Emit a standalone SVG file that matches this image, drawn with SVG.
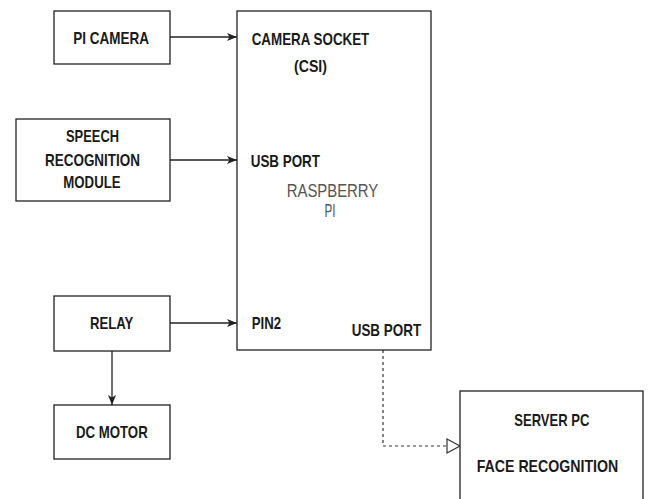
<svg xmlns="http://www.w3.org/2000/svg" width="649" height="499" viewBox="0 0 649 499">
<style>
.box{fill:#fff;stroke:#222;stroke-width:1.3}
.lbl{font-family:"Liberation Sans",Arial,sans-serif;font-weight:bold;font-size:17px;fill:#1a1a1a}
.big{font-family:"Liberation Sans",Arial,sans-serif;font-size:19px;fill:#555}
.conn{fill:none;stroke:#222;stroke-width:1.3}
.dash{fill:none;stroke:#333;stroke-width:1.2;stroke-dasharray:3 3}
</style>
<defs>
<marker id="arr" viewBox="0 0 10 8" refX="10" refY="4" markerWidth="10" markerHeight="8" markerUnits="userSpaceOnUse" orient="auto">
<path d="M0,0 L10,4 L0,8 L2.5,4 z" fill="#222"/>
</marker>
</defs>
<rect width="649" height="499" fill="#fff"/>
<g id="connectors">
<line class="conn" x1="170" y1="37" x2="237" y2="37" marker-end="url(#arr)"/>
<line class="conn" x1="170" y1="160" x2="237" y2="160" marker-end="url(#arr)"/>
<line class="conn" x1="170" y1="323" x2="237" y2="323" marker-end="url(#arr)"/>
<line class="conn" x1="112" y1="351" x2="112" y2="405" marker-end="url(#arr)"/>
<polyline class="dash" points="383,350 383,446 447,446"/>
<path d="M447,439 L460,446 L447,453 z" fill="#fff" stroke="#333" stroke-width="1.2"/>
</g>
<g id="raspberry">
<rect class="box" x="237" y="11" width="194" height="339"/>
<text class="lbl" x="251.7" y="45" textLength="117.6" lengthAdjust="spacingAndGlyphs">CAMERA SOCKET</text>
<text class="lbl" x="294" y="71.5" textLength="33" lengthAdjust="spacingAndGlyphs">(CSI)</text>
<text class="lbl" x="250.7" y="166.5" textLength="69.3" lengthAdjust="spacingAndGlyphs">USB PORT</text>
<text class="big" x="286.7" y="196.5" textLength="91.6" lengthAdjust="spacingAndGlyphs">RASPBERRY</text>
<text class="big" x="324.5" y="217" textLength="11" lengthAdjust="spacingAndGlyphs">PI</text>
<text class="lbl" x="251.7" y="328.7" textLength="29.3" lengthAdjust="spacingAndGlyphs">PIN2</text>
<text class="lbl" x="351.7" y="335.5" textLength="69.5" lengthAdjust="spacingAndGlyphs">USB PORT</text>
</g>
<g id="picamera">
<rect class="box" x="54" y="11" width="116" height="53"/>
<text class="lbl" x="73.3" y="44" textLength="75.7" lengthAdjust="spacingAndGlyphs">PI CAMERA</text>
</g>
<g id="speech">
<rect class="box" x="16" y="119" width="154" height="82"/>
<text class="lbl" x="66" y="141.7" textLength="53" lengthAdjust="spacingAndGlyphs">SPEECH</text>
<text class="lbl" x="45" y="166" textLength="95" lengthAdjust="spacingAndGlyphs">RECOGNITION</text>
<text class="lbl" x="63.3" y="188.3" textLength="57.3" lengthAdjust="spacingAndGlyphs">MODULE</text>
</g>
<g id="relay">
<rect class="box" x="54" y="296" width="116" height="55"/>
<text class="lbl" x="90" y="329.3" textLength="43.3" lengthAdjust="spacingAndGlyphs">RELAY</text>
</g>
<g id="dcmotor">
<rect class="box" x="54" y="405" width="116" height="54"/>
<text class="lbl" x="76" y="438.3" textLength="71.7" lengthAdjust="spacingAndGlyphs">DC MOTOR</text>
</g>
<g id="server">
<rect class="box" x="460" y="391" width="183" height="120"/>
<text class="lbl" x="514.3" y="426" textLength="75" lengthAdjust="spacingAndGlyphs">SERVER PC</text>
<text class="lbl" x="476.7" y="471.7" textLength="141.6" lengthAdjust="spacingAndGlyphs">FACE RECOGNITION</text>
</g>
</svg>
